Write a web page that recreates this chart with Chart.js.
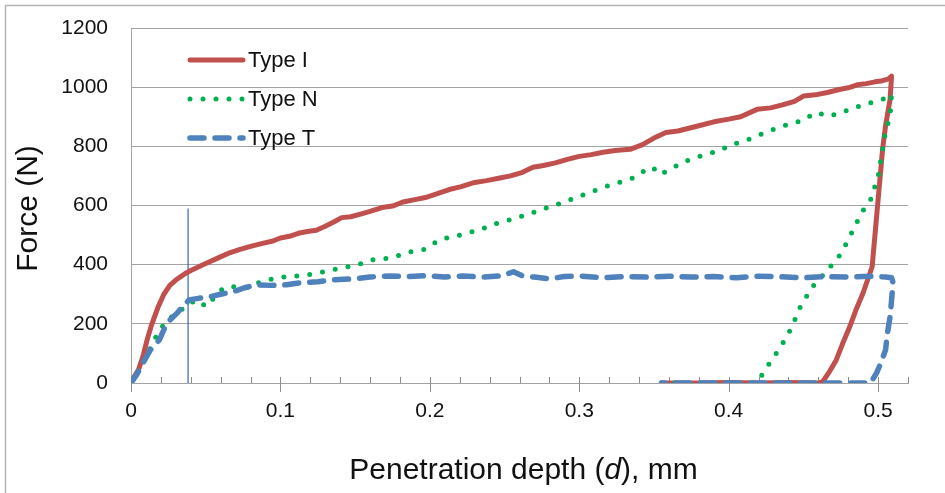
<!DOCTYPE html>
<html lang="en">
<head>
<meta charset="UTF-8">
<title>Force vs penetration depth</title>
<script src="https://cdn.jsdelivr.net/npm/chart.js"></script>
<style>
    body { margin: 0; background: #fff; }
    #wrap { width: 945px; height: 493px; position: relative; }
</style>
</head>
<body>
<div id="wrap"><canvas id="forceChart"></canvas></div>
<script>
// Type I (solid red): loading, then unloading back to zero
const typeI_d = [0, 0.002, 0.005, 0.008, 0.011, 0.014, 0.018, 0.022, 0.026, 0.030, 0.034, 0.037, 0.040, 0.045, 0.050, 0.058, 0.066, 0.073, 0.080, 0.088, 0.095, 0.100, 0.106, 0.112, 0.118, 0.124, 0.130, 0.136, 0.141, 0.147, 0.153, 0.160, 0.168, 0.175, 0.182, 0.190, 0.197, 0.205, 0.213, 0.221, 0.230, 0.238, 0.246, 0.254, 0.262, 0.269, 0.276, 0.284, 0.292, 0.300, 0.308, 0.316, 0.324, 0.334, 0.342, 0.350, 0.358, 0.366, 0.374, 0.382, 0.392, 0.400, 0.408, 0.419, 0.428, 0.436, 0.444, 0.450, 0.458, 0.466, 0.474, 0.480, 0.486, 0.492, 0.498, 0.503, 0.507, 0.509,
    0.508, 0.505, 0.503, 0.500, 0.496, 0.490, 0.485, 0.481, 0.476, 0.472, 0.467, 0.463, 0.460, 0.440, 0.420, 0.400, 0.380, 0.355];
const typeI_F = [0, 20, 45, 90, 150, 200, 255, 300, 330, 348, 362, 372, 380, 392, 404, 422, 440, 452, 462, 472, 480, 490, 496, 506, 512, 516, 530, 545, 559, 562, 570, 580, 593, 598, 612, 620, 627, 640, 654, 664, 678, 684, 692, 700, 712, 729, 735, 744, 756, 766, 772, 780, 786, 790, 805, 828, 847, 852, 862, 872, 885, 892, 900, 925, 930, 940, 952, 970, 974, 982, 992, 998, 1008, 1012, 1018, 1022, 1028, 1037,
    959, 870, 790, 620, 393, 305, 245, 190, 130, 78, 35, 5, 0, 2, 0, 2, 0, 0];

// Type N (dotted green)
const typeN_d = [0, 0.004, 0.008, 0.012, 0.016, 0.020, 0.025, 0.030, 0.035, 0.040, 0.045, 0.050, 0.055, 0.062, 0.070, 0.078, 0.086, 0.095, 0.104, 0.114, 0.125, 0.135, 0.145, 0.155, 0.162, 0.170, 0.180, 0.188, 0.196, 0.207, 0.220, 0.234, 0.245, 0.257, 0.269, 0.280, 0.290, 0.300, 0.310, 0.320, 0.327, 0.337, 0.345, 0.349, 0.354, 0.362, 0.369, 0.380, 0.392, 0.403, 0.414, 0.425, 0.436, 0.448, 0.459, 0.466, 0.474, 0.481, 0.490, 0.497, 0.503, 0.509,
    0.508, 0.505, 0.503, 0.500, 0.495, 0.489, 0.484, 0.479, 0.474, 0.468, 0.462, 0.456, 0.448, 0.444, 0.439, 0.434, 0.430, 0.425, 0.421, 0.418, 0.380, 0.355];
const typeN_F = [0, 34, 70, 110, 150, 185, 215, 235, 252, 272, 280, 258, 285, 322, 326, 322, 340, 352, 360, 362, 372, 383, 393, 405, 417, 420, 432, 445, 451, 485, 500, 519, 540, 556, 576, 595, 612, 631, 650, 668, 678, 695, 722, 730, 705, 725, 746, 765, 783, 807, 825, 848, 868, 885, 915, 902, 910, 925, 940, 950, 959, 976,
    902, 850, 790, 698, 620, 576, 525, 474, 430, 393, 358, 325, 258, 210, 156, 118, 85, 50, 17, 0, 0, 0];

// Type T (dashed blue)
const typeT_d = [0, 0.004, 0.008, 0.013, 0.019, 0.024, 0.031, 0.035, 0.039, 0.046, 0.053, 0.060, 0.068, 0.076, 0.084, 0.094, 0.104, 0.115, 0.125, 0.135, 0.148, 0.160, 0.172, 0.185, 0.198, 0.210, 0.222, 0.235, 0.248, 0.256, 0.262, 0.270, 0.280, 0.290, 0.300, 0.315, 0.330, 0.345, 0.360, 0.375, 0.390, 0.405, 0.420, 0.435, 0.450, 0.465, 0.480, 0.495, 0.505, 0.509,
    0.510, 0.509, 0.508, 0.506, 0.505, 0.502, 0.499, 0.495, 0.470, 0.430, 0.400, 0.355];
const typeT_F = [0, 30, 68, 112, 146, 203, 237, 262, 281, 287, 292, 300, 308, 322, 332, 330, 332, 340, 342, 349, 352, 358, 362, 360, 363, 358, 362, 358, 362, 376, 362, 358, 352, 360, 362, 356, 360, 358, 361, 358, 360, 356, 361, 359, 356, 360, 358, 361, 358, 356,
    339, 280, 224, 160, 112, 70, 34, 0, 0, 0, 0, 0];

// thin vertical marker line
const markerD = [0.0382, 0.0382];
const markerF = [0, 590];

const seriesNames = ['Type I', 'Type N', 'Type T'];
const yTickMax = 1200, yStep = 200;
const xTickMax = 0.52, xStep = 0.02;

const FONT = '"Liberation Sans", Arial, sans-serif';
const TEXT = '#111';
const GRID = '#a3a3a3';

function pts(d, f) { return d.map((v, i) => ({ x: v, y: f[i] })); }
function isMajor(v) { return Math.abs(v * 10 - Math.round(v * 10)) < 1e-6; }

const decor = {
    id: 'decor',
    beforeDraw(chart) {
        const ctx = chart.ctx;
        ctx.save();
        ctx.fillStyle = '#fff';
        ctx.fillRect(0, 0, chart.width, chart.height);
        // outer frame (only top and left edge fall inside the picture)
        ctx.strokeStyle = '#b4b4b4';
        ctx.lineWidth = 1.5;
        ctx.beginPath();
        ctx.moveTo(5.5, chart.height);
        ctx.lineTo(5.5, 5.5);
        ctx.lineTo(chart.width, 5.5);
        ctx.stroke();
        ctx.restore();
    },
    beforeDatasetsDraw(chart) {
        const { ctx, chartArea: a, scales: { x } } = chart;
        ctx.save();
        ctx.strokeStyle = '#8c8c8c';
        ctx.lineWidth = 1;
        x.ticks.forEach(t => {
            const px = Math.round(x.getPixelForValue(t.value)) + 0.5;
            ctx.beginPath();
            ctx.moveTo(px, a.bottom - 6);
            ctx.lineTo(px, a.bottom + (isMajor(t.value) ? 9 : 0));
            ctx.stroke();
        });
        ctx.restore();
    },
    afterDraw(chart) {
        const { ctx, chartArea: a } = chart;
        ctx.save();
        ctx.fillStyle = TEXT;
        ctx.textBaseline = 'alphabetic';

        // x title with italic d
        const parts = [['Penetration depth (', 'normal'], ['d', 'italic'], ['), mm', 'normal']];
        let total = 0;
        parts.forEach(p => { ctx.font = p[1] + ' 30px ' + FONT; total += ctx.measureText(p[0]).width; });
        let cx = (a.left + a.right) / 2 - total / 2 + 4;
        parts.forEach(p => {
            ctx.font = p[1] + ' 30px ' + FONT;
            ctx.fillText(p[0], cx, 479);
            cx += ctx.measureText(p[0]).width;
        });

        // y title
        ctx.save();
        ctx.translate(37, (a.top + a.bottom) / 2 + 3);
        ctx.rotate(-Math.PI / 2);
        ctx.font = '30px ' + FONT;
        ctx.textAlign = 'center';
        ctx.fillText('Force (N)', 0, 0);
        ctx.restore();

        // legend inside plot
        ctx.font = '22px ' + FONT;
        ctx.textBaseline = 'middle';
        seriesNames.forEach((name, i) => {
            const ds = chart.data.datasets[i];
            const y = a.top + 32 + i * 39;
            const x1 = a.left + 59, x2 = a.left + 112;
            ctx.save();
            ctx.strokeStyle = ds.borderColor;
            ctx.lineWidth = ds.borderWidth;
            ctx.lineCap = ds.borderCapStyle || 'butt';
            ctx.setLineDash(ds.borderDash || []);
            ctx.beginPath();
            ctx.moveTo(x1, y);
            ctx.lineTo(x2, y);
            ctx.stroke();
            ctx.restore();
            ctx.fillText(name, a.left + 117, y + 1);
        });
        ctx.restore();
    }
};

new Chart(document.getElementById('forceChart'), {
    type: 'scatter',
    data: {
        datasets: [
            {
                label: seriesNames[0],
                data: pts(typeI_d, typeI_F),
                showLine: true, pointRadius: 0,
                borderColor: '#c0504d', borderWidth: 5,
                borderCapStyle: 'round', borderJoinStyle: 'round',
                order: 3
            },
            {
                label: seriesNames[1],
                data: pts(typeN_d, typeN_F),
                showLine: true, pointRadius: 0,
                borderColor: '#00b050', borderWidth: 5,
                borderDash: [0, 13], borderCapStyle: 'round', borderJoinStyle: 'round',
                order: 2
            },
            {
                label: seriesNames[2],
                data: pts(typeT_d, typeT_F),
                showLine: true, pointRadius: 0,
                borderColor: '#4f81bd', borderWidth: 5.5,
                borderDash: [14, 11], borderCapStyle: 'round', borderJoinStyle: 'round',
                order: 1
            },
            {
                label: 'marker',
                data: pts(markerD, markerF),
                showLine: true, pointRadius: 0,
                borderColor: '#3465b0', borderWidth: 1.2,
                order: 4
            }
        ]
    },
    options: {
        responsive: true,
        maintainAspectRatio: false,
        animation: false,
        layout: { padding: { left: 0, top: 28, right: 37, bottom: 0 } },
        plugins: {
            legend: { display: false },
            tooltip: { enabled: false }
        },
        scales: {
            x: {
                type: 'linear',
                min: 0, max: xTickMax,
                afterFit(scale) { scale.height = 110; },
                grid: { display: false, drawTicks: false },
                border: { display: true, color: GRID, width: 1 },
                ticks: {
                    stepSize: xStep,
                    autoSkip: false,
                    maxRotation: 0,
                    padding: 16,
                    color: TEXT,
                    font: { family: FONT, size: 21 },
                    callback: v => isMajor(v) ? String(Math.round(v * 10) / 10) : ''
                }
            },
            y: {
                min: 0, max: yTickMax,
                afterFit(scale) { scale.width = 131; },
                // invisible tick marks push the labels away from the axis
                grid: { color: GRID, lineWidth: 1, drawTicks: true, tickLength: 20, tickColor: 'rgba(0,0,0,0)' },
                border: { display: true, color: GRID, width: 1 },
                ticks: {
                    stepSize: yStep,
                    padding: 3,
                    color: TEXT,
                    font: { family: FONT, size: 21 },
                    callback: v => String(v)
                }
            }
        }
    },
    plugins: [decor]
});
</script>
</body>
</html>
